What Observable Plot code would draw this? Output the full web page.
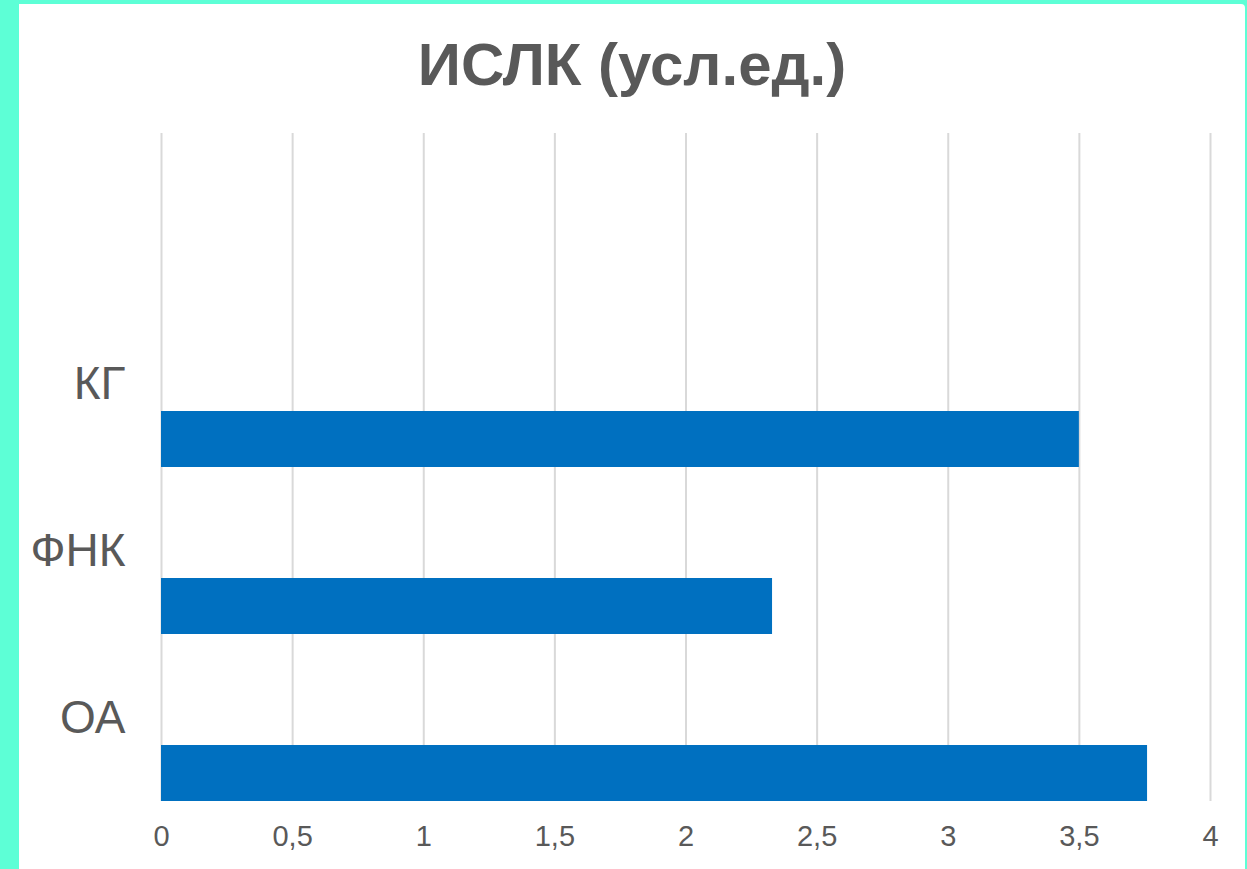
<!DOCTYPE html>
<html>
<head>
<meta charset="utf-8">
<script src="https://cdn.jsdelivr.net/npm/d3@7"></script>
<script src="https://cdn.jsdelivr.net/npm/@observablehq/plot@0.6"></script>
<style>
  html, body { margin: 0; padding: 0; }
  body {
    width: 1247px; height: 869px; overflow: hidden;
    background: #5dffd6; position: relative;
    font-family: "Liberation Sans", Arial, sans-serif;
  }
  #panel {
    position: absolute; left: 19px; top: 4px; width: 1226px; height: 870px;
    background: #ffffff; border-top-right-radius: 4px;
  }
  #title {
    position: absolute; left: 19px; top: 35px; width: 1226px;
    text-align: center; font-size: 60px; line-height: 60px; font-weight: bold;
    color: #595959;
  }
  #chart { position: absolute; left: 0; top: 120px; }
</style>
</head>
<body>
<div id="panel"></div>
<div id="title">ИСЛК (усл.ед.)</div>
<div id="chart"></div>
<script>
// Categories top to bottom; the leading blank slot keeps the empty top band
const categories = ["", "КГ", "ФНК", "ОА"];
const groups = ["КГ", "ФНК", "ОА"];
const values = [3.5, 2.33, 3.76];
const xTicks = [0, 0.5, 1, 1.5, 2, 2.5, 3, 3.5, 4];

const rows = groups.map((g, i) => ({group: g, value: values[i]}));
const comma = (d) => String(d).replace(".", ",");

const plot = Plot.plot({
  width: 1247,
  height: 749,
  marginTop: 13,
  marginBottom: 68,
  marginLeft: 161,
  marginRight: 37,
  style: {fontFamily: "'Liberation Sans', Arial, sans-serif", color: "#595959", background: "transparent"},
  x: {domain: [0, 4], ticks: xTicks},
  y: {domain: categories, padding: 0},
  marks: [
    Plot.gridX(xTicks, {stroke: "#d9d9d9", strokeOpacity: 1, strokeWidth: 2}),
    Plot.barX(rows, {x: "value", y: "group", fill: "#0070c0", insetTop: 111, insetBottom: 0}),
    Plot.axisX({ticks: xTicks, tickFormat: comma, tickSize: 0, tickPadding: 24, fontSize: 29, fill: "#595959", label: null}),
    Plot.axisY({tickSize: 0, tickPadding: 36, fontSize: 46, fill: "#595959", label: null})
  ]
});
document.getElementById("chart").appendChild(plot);
</script>
</body>
</html>
